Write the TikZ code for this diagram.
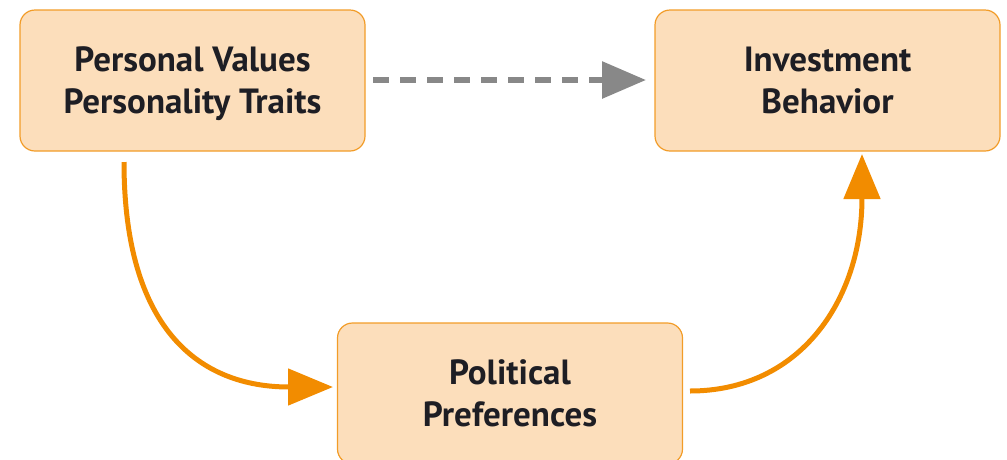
\documentclass[tikz,border=0pt]{standalone}
\usepackage{fontspec}
\setmainfont{PT Sans}
\usetikzlibrary{arrows.meta}
\definecolor{boxfill}{RGB}{252,222,187}
\definecolor{boxline}{RGB}{242,156,40}
\definecolor{arrorange}{RGB}{242,140,0}
\definecolor{arrgray}{RGB}{136,136,136}
\definecolor{txt}{RGB}{30,30,36}
\tikzset{
  mybox/.style={draw=boxline, line width=1.2pt, fill=boxfill, rounded corners=15pt,
    minimum width=345pt, minimum height=141pt, inner sep=0pt,
    text height=65pt, text depth=0pt,
    align=center, text=txt, font=\fontsize{35}{42}\selectfont\bfseries},
  orangearrow/.style={draw=arrorange, line width=5pt,
    -{Triangle[length=45pt,width=36pt]}},
  grayarrow/.style={draw=arrgray, line width=6pt, dash pattern=on 16pt off 11pt,
    -{Triangle[length=44pt,width=36pt]}}
}
\begin{document}
\begin{tikzpicture}[x=1pt,y=-1pt]
\useasboundingbox (0,0) rectangle (1007,459);
\begin{scope}
\clip (0,0) rectangle (1007,459);
\node[mybox] (pv) at (192.5,80.5) {Personal Values\\Personality Traits};
\node[mybox] (ib) at (827.5,80.5) {Investment\\Behavior};
\node[mybox] (pp) at (510,393.5) {Political\\Preferences};
\coordinate (a1s) at (124,162);
\coordinate (a1e) at (333,387);
\coordinate (a2s) at (690,391);
\coordinate (a2e) at (862,154);
\coordinate (gs) at (373,80);
\coordinate (ge) at (646,80);
\draw[grayarrow] (gs) -- (ge);
\draw[orangearrow] (a1s) .. controls (124,330) and (200,387) .. (a1e);
\draw[orangearrow] (a2s) .. controls (800,391) and (862,300) .. (a2e);
\end{scope}
\end{tikzpicture}
\end{document}
